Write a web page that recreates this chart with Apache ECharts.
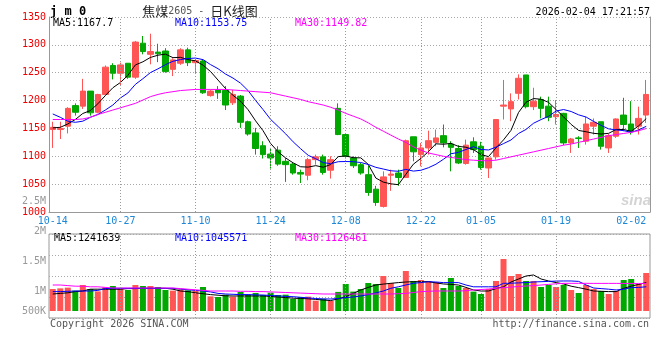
<!DOCTYPE html>
<html><head><meta charset="utf-8">
<script src="https://cdn.jsdelivr.net/npm/echarts@6/dist/echarts.min.js"></script>
<style>html,body{margin:0;padding:0;background:#fff}#c{width:660px;height:360px}</style>
</head><body><div id="c"></div>
<script>
const dates = ['10-14','10-15','10-16','10-17','10-20','10-21','10-22','10-23','10-24','10-27','10-28','10-29','10-30','10-31',
'11-03','11-04','11-05','11-06','11-07','11-10','11-11','11-12','11-13','11-14','11-17','11-18','11-19','11-20','11-21','11-24','11-25','11-26','11-27','11-28',
'12-01','12-02','12-03','12-04','12-05','12-08','12-09','12-10','12-11','12-12','12-15','12-16','12-17','12-18','12-19','12-22','12-23','12-24','12-25','12-26','12-29','12-30','12-31',
'01-05','01-06','01-07','01-08','01-09','01-12','01-13','01-14','01-15','01-16','01-19','01-20','01-21','01-22','01-23','01-26','01-27','01-28','01-29','01-30',
'02-02','02-03','02-04'];
const tickDates = ['10-14','10-27','11-10','11-24','12-08','12-22','01-05','01-19','02-02'];
const gridDates = ['10-27','11-10','11-24','12-08','12-22','01-05','01-19'];

const open = [1148,1148,1154,1191,1190,1217,1179,1211,1263,1249,1267,1242,1303,1283,1287,1289,1256,1267,1291,1268,
1271,1209,1219,1218,1196,1208,1162,1142,1119,1104,1111,1091,1086,1071,1066,1094,1099,1075,1186,1139,
1097,1085,1067,1041,1010,1066,1070,1062,1135,1103,1115,1125,1137,1122,1114,1087,1126,1118,1079,1099,
1190,1185,1213,1246,1189,1202,1190,1171,1177,1124,1133,1127,1154,1162,1115,1136,1174,1158,1154,1174];
const close = [1152,1150,1186,1179,1217,1178,1211,1260,1249,1264,1242,1305,1288,1288,1284,1252,1273,1291,1268,1272,
1214,1217,1214,1192,1211,1161,1140,1114,1103,1097,1086,1085,1070,1068,1094,1099,1071,1094,1139,1100,
1083,1070,1035,1017,1063,1068,1062,1128,1108,1115,1128,1133,1124,1116,1088,1120,1112,1080,1097,1166,
1192,1198,1240,1189,1199,1186,1170,1175,1124,1131,1132,1158,1161,1118,1137,1167,1157,1145,1168,1211];
const low = [1115,1131,1141,1173,1185,1173,1177,1209,1238,1227,1239,1239,1283,1265,1269,1250,1244,1264,1262,1248,
1212,1207,1203,1183,1192,1151,1137,1103,1096,1078,1083,1054,1067,1052,1057,1085,1067,1060,1138,1096,
1079,1067,1029,1011,1008,1038,1047,1061,1091,1082,1103,1118,1116,1073,1086,1085,1106,1076,1061,1094,
1166,1163,1202,1186,1183,1168,1163,1157,1120,1106,1115,1121,1139,1112,1106,1133,1145,1139,1139,1160];
const high = [1162,1162,1188,1195,1239,1217,1212,1263,1267,1268,1267,1307,1316,1320,1302,1294,1276,1294,1295,1275,
1273,1220,1226,1226,1219,1210,1164,1151,1127,1115,1118,1097,1088,1076,1097,1103,1103,1100,1195,1141,
1100,1088,1083,1047,1073,1076,1076,1130,1135,1124,1146,1148,1157,1127,1120,1130,1134,1126,1097,1166,
1237,1213,1247,1246,1223,1207,1207,1201,1178,1133,1136,1171,1168,1162,1140,1168,1205,1199,1189,1237];

const ma5 = [1151,1152,1158,1166,1176.8,1182,1194.2,1209,1223,1232.4,1245.2,1264,1269.6,1277.4,1281.4,1283.4,1277,1277.6,1273.6,1271.2,
1263.6,1252.2,1236.8,1221.6,1209.4,1198.8,1183.6,1163.6,1145.8,1123,1108,1097,1088.2,1081.2,1080.6,1083.2,1080.4,1085.2,1099.4,1100.6,
1097.4,1097.2,1085.4,1061,1053.6,1050.6,1049,1067.6,1085.8,1096.2,1108.2,1122.4,1121.6,1123.2,1117.8,1116.2,1112,1103.2,1099.4,1115,
1129.4,1146.6,1178.6,1197,1203.6,1202.4,1196.8,1183.8,1170.8,1157.2,1146.4,1144,1141.2,1140,1141.2,1148.2,1148,1144.8,1154.8,1167.7];
const ma10 = [1176,1170,1163,1161,1163,1170,1175,1183,1192,1204.6,1213.6,1229.1,1239.3,1250.2,1256.9,1264.3,1270.5,1273.6,1275.5,1276.3,
1273.5,1264.6,1257.2,1247.6,1240.3,1231.2,1217.9,1200.2,1183.7,1166.2,1153.4,1140.3,1125.9,1113.5,1101.8,1095.6,1088.7,1086.7,1090.3,1090.6,
1090.3,1088.8,1085.3,1080.2,1077.1,1074,1073.1,1076.5,1073.4,1074.9,1079.4,1085.7,1094.6,1104.5,1107,1112.2,1117.2,1112.4,1111.3,1116.4,
1122.8,1129.3,1140.9,1148.2,1159.3,1165.9,1171.7,1181.2,1183.9,1180.4,1174.4,1170.4,1162.5,1155.4,1149.2,1147.3,1146,1143,1147.4,1153.75];
const ma30 = [1166,1166,1166,1166,1167,1170,1175,1179,1183,1187,1191,1195,1201,1207,1211,1214,1216,1218,1219,1220,
1220,1220,1220,1220,1219,1218,1217,1216,1215,1214,1211,1208,1205,1202,1198,1195,1192,1188,1183,1177,
1172,1167,1160,1152,1145,1138,1131,1125,1117,1111,1106,1103,1100,1098,1096,1094,1093,1092,1092,1093,
1096,1099,1102,1105,1108,1111,1114,1117,1120,1122,1125,1128,1131,1134,1137,1139,1141,1143,1146,1149.82];

const volume = [1033000,1044000,1056000,1006000,1100000,1033000,994000,1061000,1083000,1033000,
1017000,1100000,1083000,1083000,1067000,1017000,1006000,1028000,1011000,1006000,
1067000,911000,900000,939000,906000,983000,939000,967000,933000,972000,
933000,939000,867000,900000,906000,839000,872000,833000,985000,1117000,
990000,1033000,1133000,1117000,1250000,1133000,1050000,1333000,1167000,1183000,
1167000,1150000,1050000,1217000,1083000,1050000,990000,950000,1033000,1167000,
1533000,1250000,1283000,1167000,1167000,1067000,1100000,1067000,1100000,1017000,
967000,1100000,1033000,1000000,950000,1000000,1183000,1200000,1117000,1300000];
const volMa5 = [950000,960000,970000,990000,1000000,1030000,1030000,1030000,1030000,1030000,
1040000,1040000,1045000,1045000,1045000,1045000,1030000,1000000,990000,970000,
955000,940000,930000,920000,917000,917000,917000,917000,917000,910000,
900000,890000,880000,875000,870000,860000,850000,840000,870000,905000,
960000,1017000,1060000,1100000,1115000,1128000,1140000,1150000,1155000,1155000,
1155000,1135000,1117000,1110000,1100000,1060000,1017000,1000000,1000000,1040000,
1070000,1150000,1200000,1250000,1267000,1200000,1167000,1140000,1117000,1080000,
1056000,1030000,1000000,995000,990000,990000,1045000,1080000,1110000,1140000];
const volMa10 = [990000,990000,995000,1000000,1000000,1000000,1010000,1040000,1045000,1045000,
1045000,1045000,1045000,1045000,1045000,1045000,1045000,1033000,1020000,1010000,
1000000,985000,960000,950000,945000,940000,940000,935000,933000,925000,
920000,910000,905000,895000,885000,875000,867000,867000,875000,890000,
900000,917000,940000,967000,1000000,1045000,1070000,1100000,1128000,1140000,
1155000,1150000,1140000,1140000,1140000,1100000,1070000,1070000,1070000,1070000,
1128000,1130000,1135000,1140000,1150000,1155000,1160000,1165000,1167000,1167000,
1160000,1100000,1050000,1040000,1030000,1017000,1030000,1056000,1060000,1070000];
const volMa30 = [1100000,1100000,1090000,1080000,1080000,1070000,1070000,1060000,1050000,1050000,
1050000,1050000,1050000,1050000,1050000,1050000,1050000,1040000,1030000,1020000,
1010000,1000000,1000000,1000000,1000000,995000,995000,990000,990000,985000,
980000,975000,970000,965000,960000,955000,950000,950000,950000,950000,
950000,950000,950000,950000,950000,950000,955000,960000,975000,990000,
995000,1000000,1000000,1000000,1000000,1005000,1017000,1025000,1033000,1045000,
1056000,1065000,1075000,1083000,1090000,1100000,1110000,1120000,1128000,1128000,
1128000,1128000,1127000,1127000,1127000,1127000,1126000,1126000,1126000,1126000];

const priceLegend = ['MA5:1167.7','MA10:1153.75','MA30:1149.82'];
const volLegend = ['MA5:1241639','MA10:1045571','MA30:1126461'];
const volBarBase = 666667;

const MONO = '"DejaVu Sans Mono", "Liberation Mono", monospace';
const UP = '#ff5555', DOWN = '#00a800';
const GRIDC = '#a8a8a8', FRAME = '#999999';
const dotted = {color: GRIDC, type: [1, 2], width: 1};

const chart = echarts.init(document.getElementById('c'), null, {renderer: 'canvas'});
const vLines = gridDates.map(d => ({xAxis: d}));
const mk = {silent: true, symbol: ['none', 'none'], label: {show: false},
  lineStyle: {color: '#999999', type: [1, 2], width: 1}, emphasis: {disabled: true}, animation: false, data: vLines};

function txt(x, y, text, color, align, font) {
  return {type: 'text', x: x, y: y, silent: true,
    style: {text: text, fill: color, font: font || ('10px ' + MONO), align: align || 'left', verticalAlign: 'middle'}};
}

const option = {
  animation: false,
  backgroundColor: '#ffffff',
  grid: [
    {left: 49, right: 10, top: 17, height: 195},
    {left: 49, right: 10, top: 234, height: 84, show: true, borderColor: FRAME, borderWidth: 1, backgroundColor: 'transparent'},
    {left: 49, right: 10, top: 201, height: 120}
  ],
  xAxis: [
    {type: 'category', gridIndex: 0, data: dates, boundaryGap: true,
      axisLine: {show: true, lineStyle: {color: FRAME}}, axisTick: {show: false}, splitLine: {show: false},
      axisLabel: {color: '#1e88d8', fontFamily: MONO, fontSize: 10, margin: 4,
        interval: (i, v) => tickDates.indexOf(v) >= 0}},
    {type: 'category', gridIndex: 1, data: dates, boundaryGap: true,
      axisLine: {show: false}, axisTick: {show: false}, axisLabel: {show: false}, splitLine: {show: false}},
    {type: 'category', gridIndex: 2, data: dates, show: false}
  ],
  yAxis: [
    {type: 'value', gridIndex: 0, min: 1000, max: 1350, interval: 50, position: 'left',
      axisLine: {show: true, onZero: false, lineStyle: {color: FRAME}}, axisTick: {show: false},
      splitLine: {show: true, lineStyle: dotted},
      axisLabel: {color: '#ee0000', fontFamily: MONO, fontSize: 10, margin: 3, formatter: v => String(v)}},
    {type: 'value', gridIndex: 0, min: 1000, max: 1350, position: 'right',
      axisLine: {show: true, onZero: false, lineStyle: {color: FRAME}}, axisTick: {show: false},
      splitLine: {show: false}, axisLabel: {show: false}},
    {type: 'value', gridIndex: 1, min: 550000, max: 1950000,
      axisLine: {show: false}, axisTick: {show: false}, splitLine: {show: false}, axisLabel: {show: false}},
    {type: 'value', gridIndex: 1, min: 0, max: 4, interval: 1,
      axisLine: {show: false}, axisTick: {show: false}, axisLabel: {show: false},
      splitLine: {show: true, lineStyle: dotted}},
    {type: 'value', gridIndex: 2, min: 500000, max: 2500000, interval: 500000,
      axisLine: {show: false}, axisTick: {show: false}, splitLine: {show: false},
      axisLabel: {color: '#999999', fontFamily: MONO, fontSize: 10, margin: 3,
        formatter: v => v === 500000 ? '{s|500K}' : (v / 1000000) + 'M',
        rich: {s: {color: '#999999', fontFamily: MONO, fontSize: 10, padding: [0, 0, 20, 0]}}}}
  ],
  series: [
    {type: 'candlestick', xAxisIndex: 0, yAxisIndex: 0, barWidth: 6,
      data: dates.map((d, i) => [open[i], close[i], low[i], high[i]]),
      itemStyle: {color: UP, color0: DOWN, borderColor: UP, borderColor0: DOWN, borderWidth: 1},
      markLine: mk, z: 3},
    {type: 'line', xAxisIndex: 0, yAxisIndex: 0, data: ma5, showSymbol: false, symbol: 'none',
      lineStyle: {color: '#000000', width: 1}, z: 4},
    {type: 'line', xAxisIndex: 0, yAxisIndex: 0, data: ma10, showSymbol: false, symbol: 'none',
      lineStyle: {color: '#0000ff', width: 1}, z: 4},
    {type: 'line', xAxisIndex: 0, yAxisIndex: 0, data: ma30, showSymbol: false, symbol: 'none',
      lineStyle: {color: '#ff00ff', width: 1}, z: 4},
    {type: 'bar', xAxisIndex: 1, yAxisIndex: 2, stack: 'vol', barWidth: 6,
      data: dates.map(() => volBarBase), itemStyle: {color: 'rgba(0,0,0,0)'}, silent: true},
    {type: 'bar', xAxisIndex: 1, yAxisIndex: 2, stack: 'vol', barWidth: 6,
      data: dates.map((d, i) => ({value: volume[i] - volBarBase,
        itemStyle: {color: close[i] >= open[i] ? UP : DOWN}})),
      markLine: mk, z: 3},
    {type: 'line', xAxisIndex: 1, yAxisIndex: 2, data: volMa5, showSymbol: false, symbol: 'none',
      lineStyle: {color: '#000000', width: 1}, z: 4},
    {type: 'line', xAxisIndex: 1, yAxisIndex: 2, data: volMa10, showSymbol: false, symbol: 'none',
      lineStyle: {color: '#0000ff', width: 1}, z: 4},
    {type: 'line', xAxisIndex: 1, yAxisIndex: 2, data: volMa30, showSymbol: false, symbol: 'none',
      lineStyle: {color: '#ff00ff', width: 1}, z: 4}
  ],
  graphic: [
    txt(50, 12, 'j m 0', '#000000', 'left', 'bold 12px ' + MONO),
    {type: 'text', x: 200, y: 11, silent: true,
      style: {text: '{a|焦煤}{b|2605 - }{a|日K线图}', align: 'center', verticalAlign: 'middle',
        rich: {a: {fontFamily: '"Noto Sans CJK SC"', fontSize: 13, fill: '#222222', color: '#222222'},
               b: {fontFamily: MONO, fontSize: 10, fill: '#555555', color: '#555555'}}}},
    txt(650, 12, '2026-02-04 17:21:57', '#000000', 'right'),
    txt(53, 23, priceLegend[0], '#000000'),
    txt(175, 23, priceLegend[1], '#0000ff'),
    txt(295, 23, priceLegend[2], '#ff00ff'),
    txt(54, 238, volLegend[0], '#000000'),
    txt(175, 238, volLegend[1], '#0000ff'),
    txt(295, 238, volLegend[2], '#ff00ff'),
    txt(50, 324, 'Copyright 2026 SINA.COM', '#555555'),
    txt(649, 324, 'http://finance.sina.com.cn', '#555555', 'right'),
    {type: 'text', x: 636, y: 201, silent: true, z: -1,
      style: {text: 'sina', fill: '#d4d4d4', font: 'italic bold 15px "Liberation Sans"', align: 'center', verticalAlign: 'middle'}}
  ]
};
chart.setOption(option);
</script>
</body></html>
